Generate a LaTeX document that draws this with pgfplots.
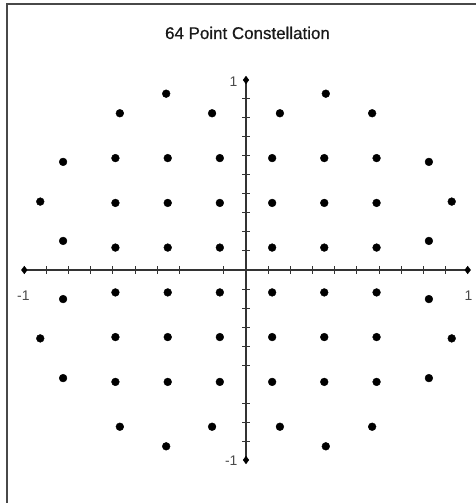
\documentclass[border=0pt]{standalone}
\usepackage{fontspec}
\setmainfont{Liberation Sans}
\newfontfamily\heavyfont[FakeBold=0.6]{Liberation Sans}
\usepackage{pgfplots}
\pgfplotsset{compat=1.18}
\definecolor{axisgray}{HTML}{333333}
\definecolor{labelgray}{HTML}{4A4A4A}
\definecolor{framegray}{HTML}{484848}

\begin{document}
\begin{tikzpicture}
% overall canvas, measured from the origin of the constellation
\path[use as bounding box] (-246bp,-233bp) rectangle (230bp,270bp);
% window frame (top and left edges)
\draw[framegray, line width=1.6bp] (-238.7bp,-233bp) -- (-238.7bp,266bp) -- (230bp,266bp);
% title
\node[anchor=base, font=\heavyfont\fontsize{17}{19}\selectfont, text=black!90] at (1.5bp,231bp) {64 Point Constellation};

\begin{axis}[
  at={(0,0)}, anchor=origin,
  scale only axis,
  width=443.4bp, height=380bp,
  xmin=-1, xmax=1, ymin=-1, ymax=1,
  axis lines=middle,
  axis line style={-, line width=1.4bp, color=axisgray},
  xtick={-0.9,-0.8,-0.7,-0.6,-0.5,-0.4,-0.3,-0.1,0.1,0.2,0.3,0.4,0.5,0.6,0.7,0.8,0.9},
  ytick={-0.9,-0.8,-0.7,-0.5,-0.4,-0.3,-0.2,-0.1,0.1,0.2,0.3,0.4,0.5,0.6,0.7,0.8,0.9},
  xticklabels={}, yticklabels={},
  tick align=center,
  major tick length=7.5bp,
  tick style={line width=1bp, color=axisgray},
  clip=false,
]
% axis end markers
\addplot[only marks, mark=diamond*, mark size=3.8bp, color=black]
  coordinates {(-1,0) (1,0) (0,1) (0,-1)};

% constellation points: inner 6x6 square grid
\addplot[only marks, mark=*, mark size=3.9bp, color=black] coordinates {
  (-0.589, 0.589) (-0.353, 0.589) (-0.118, 0.589) (0.118, 0.589) (0.353, 0.589) (0.589, 0.589)
  (-0.589, 0.353) (-0.353, 0.353) (-0.118, 0.353) (0.118, 0.353) (0.353, 0.353) (0.589, 0.353)
  (-0.589, 0.118) (-0.353, 0.118) (-0.118, 0.118) (0.118, 0.118) (0.353, 0.118) (0.589, 0.118)
  (-0.589,-0.118) (-0.353,-0.118) (-0.118,-0.118) (0.118,-0.118) (0.353,-0.118) (0.589,-0.118)
  (-0.589,-0.353) (-0.353,-0.353) (-0.118,-0.353) (0.118,-0.353) (0.353,-0.353) (0.589,-0.353)
  (-0.589,-0.589) (-0.353,-0.589) (-0.118,-0.589) (0.118,-0.589) (0.353,-0.589) (0.589,-0.589)
};
% constellation points: outer ring
\addplot[only marks, mark=*, mark size=3.9bp, color=black] coordinates {
  (0.153, 0.825) (0.360, 0.928) (0.569, 0.825) (0.825, 0.569) (0.928, 0.360) (0.825, 0.153)
  (-0.153, 0.825) (-0.360, 0.928) (-0.569, 0.825) (-0.825, 0.569) (-0.928, 0.360) (-0.825, 0.153)
  (0.153,-0.825) (0.360,-0.928) (0.569,-0.825) (0.825,-0.569) (0.928,-0.360) (0.825,-0.153)
  (-0.153,-0.825) (-0.360,-0.928) (-0.569,-0.825) (-0.825,-0.569) (-0.928,-0.360) (-0.825,-0.153)
};

% end labels
\node[anchor=base, text=labelgray, font=\fontsize{14}{16}\selectfont] at (axis cs:-1.004,-0.162) {-1};
\node[anchor=base, text=labelgray, font=\fontsize{14}{16}\selectfont] at (axis cs:1.004,-0.162) {1};
\node[anchor=east, text=labelgray, font=\fontsize{14}{16}\selectfont, xshift=-5bp, yshift=-1.5bp] at (axis cs:0,1) {1};
\node[anchor=east, text=labelgray, font=\fontsize{14}{16}\selectfont, xshift=-5bp, yshift=-1bp] at (axis cs:0,-1) {-1};
\end{axis}
\end{tikzpicture}
\end{document}
